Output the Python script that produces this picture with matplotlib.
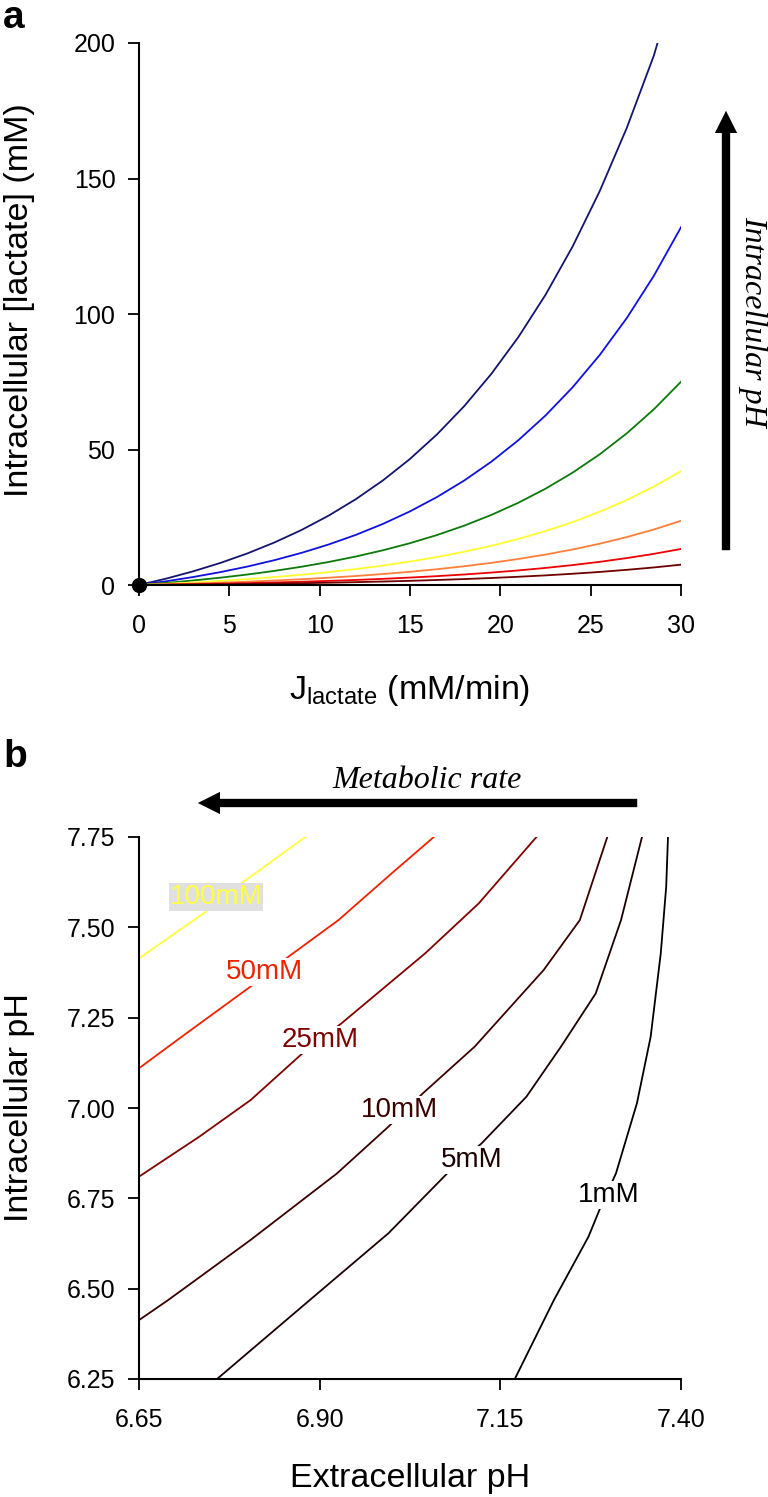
import matplotlib.pyplot as plt
from matplotlib.patches import FancyArrowPatch

plt.rcParams['font.family'] = ['Liberation Sans', 'DejaVu Sans']
plt.rcParams['mathtext.fontset'] = 'custom'
plt.rcParams['mathtext.rm'] = 'Liberation Sans'
plt.rcParams['mathtext.default'] = 'regular'

# ---- panel a: intracellular lactate vs lactate production rate ----
j_lactate = [0, 1.5, 3, 4.5, 6, 7.5, 9, 10.5, 12, 13.5, 15, 16.5, 18, 19.5, 21,
             22.5, 24, 25.5, 27, 28.5, 30]
lac_darkred = [0, 0.08, 0.17, 0.27, 0.39, 0.52, 0.67, 0.85, 1.05, 1.28, 1.54,
               1.85, 2.19, 2.58, 3.04, 3.55, 4.15, 4.82, 5.60, 6.48, 7.5]
lac_red = [0, 0.14, 0.30, 0.48, 0.69, 0.92, 1.20, 1.51, 1.86, 2.27, 2.74,
           3.27, 3.88, 4.58, 5.38, 6.30, 7.35, 8.55, 9.93, 11.50, 13.3]
lac_orange = [0, 0.25, 0.53, 0.85, 1.22, 1.65, 2.13, 2.69, 3.32, 4.05, 4.88,
              5.83, 6.92, 8.17, 9.60, 11.23, 13.10, 15.24, 17.69, 20.49, 23.7]
lac_yellow = [0, 0.44, 0.94, 1.51, 2.17, 2.92, 3.78, 4.76, 5.88, 7.17, 8.65,
              10.33, 12.26, 14.47, 17.00, 19.90, 23.21, 27.00, 31.35, 36.31, 42.0]
lac_green = [0, 0.78, 1.67, 2.70, 3.87, 5.21, 6.74, 8.50, 10.51, 12.81, 15.44,
             18.45, 21.90, 25.85, 30.36, 35.53, 41.45, 48.22, 55.97, 64.85, 75.0]
lac_blue = [0, 1.37, 2.95, 4.75, 6.81, 9.17, 11.87, 14.96, 18.49, 22.54, 27.17,
            32.48, 38.55, 45.49, 53.44, 62.54, 72.95, 84.87, 98.51, 114.13, 132.0]
j_navy = [0, 1.5, 3, 4.5, 6, 7.5, 9, 10.5, 12, 13.5, 15, 16.5, 18, 19.5, 21,
          22.5, 24, 25.5, 27, 28.5, 28.7]
lac_navy = [0, 2.35, 5.05, 8.13, 11.66, 15.70, 20.32, 25.61, 31.66, 38.59, 46.52,
            55.61, 65.99, 77.89, 91.50, 107.07, 124.90, 145.31, 168.67, 195.41, 200.0]

# ---- panel b: iso-lactate contours (pHe, pHi) ----
contour_levels = ['100mM', '50mM', '25mM', '10mM', '5mM', '1mM']
c100_phe = [6.65, 6.7425, 6.792, 6.880]
c100_phi = [7.414, 7.543, 7.622, 7.75]
c50_phe = [6.65, 6.709, 6.807, 6.857, 6.926, 7.000, 7.058]
c50_phi = [7.110, 7.197, 7.340, 7.419, 7.520, 7.650, 7.75]
c25_phe = [6.65, 6.733, 6.8045, 6.876, 6.930, 7.046, 7.120, 7.200]
c25_phi = [6.810, 6.920, 7.022, 7.151, 7.234, 7.428, 7.566, 7.75]
c10_phe = [6.65, 6.690, 6.734, 6.8045, 6.924, 6.995, 7.043, 7.1146, 7.210, 7.260, 7.298]
c10_phi = [6.413, 6.468, 6.532, 6.635, 6.819, 6.948, 7.041, 7.170, 7.382, 7.520, 7.75]
c5_phe = [6.758, 6.886, 6.995, 7.0765, 7.124, 7.186, 7.234, 7.282, 7.317, 7.346]
c5_phi = [6.25, 6.468, 6.653, 6.819, 6.902, 7.031, 7.170, 7.317, 7.520, 7.75]
c1_phe = [7.17, 7.224, 7.272, 7.289, 7.310, 7.339, 7.358, 7.372, 7.3795, 7.382]
c1_phi = [6.25, 6.468, 6.644, 6.727, 6.819, 7.013, 7.197, 7.428, 7.612, 7.75]
label_phe = [6.757, 6.824, 6.900, 7.010, 7.110, 7.300]
label_phi = [7.584, 7.377, 7.188, 6.994, 6.856, 6.759]

fig = plt.figure(figsize=(7.68, 14.97), dpi=100)
W, H = 768.0, 1497.0


def fx(px):
    return px / W


def fy(py):
    return 1 - py / H


def style_axes(ax):
    for s in ['top', 'right']:
        ax.spines[s].set_visible(False)
    for s in ['left', 'bottom']:
        ax.spines[s].set_linewidth(1.5)
    ax.tick_params(direction='out', length=8, width=1.3, labelsize=18, pad=9)


ax1 = fig.add_axes([fx(139), fy(585), fx(681) - fx(139), fy(43) - fy(585)])
style_axes(ax1)
ax1.plot(j_navy, lac_navy, color='#14146e', lw=1.3)
ax1.plot(j_lactate, lac_blue, color='#1010e0', lw=1.3)
ax1.plot(j_lactate, lac_green, color='#0a7a0a', lw=1.3)
ax1.plot(j_lactate, lac_yellow, color='#ffff30', lw=1.3)
ax1.plot(j_lactate, lac_orange, color='#ff7f3a', lw=1.3)
ax1.plot(j_lactate, lac_red, color='#ee0000', lw=1.3)
ax1.plot(j_lactate, lac_darkred, color='#6e0000', lw=1.3)
ax1.plot([0], [0], 'o', color='black', ms=10, clip_on=False, zorder=5)
ax1.set_xlim(0, 30)
ax1.set_ylim(0, 200)
ax1.set_xticks([0, 5, 10, 15, 20, 25, 30])
ax1.set_yticks([0, 50, 100, 150, 200])
ax1.tick_params(axis='x', pad=13)

fig.text(fx(20), fy(300), 'Intracellular [lactate] (mM)', rotation=90,
         ha='center', va='center', fontsize=24.5)
fig.text(fx(410), fy(690), 'J$_{lactate}$ (mM/min)', ha='center', va='center', fontsize=24.5)
fig.text(fx(3), fy(28), 'a', fontsize=28, fontweight='bold', ha='left', va='baseline')

arrow_style = 'simple,tail_width=0.6,head_width=1.6,head_length=1.6'
fig.patches.append(FancyArrowPatch(
    (fx(726), fy(553)), (fx(726), fy(108)), transform=fig.transFigure,
    arrowstyle=arrow_style, mutation_scale=10, color='black', lw=0))
fig.text(fx(753), fy(321), 'Intracellular pH', rotation=-90, ha='center', va='center',
         fontsize=23, family='Liberation Serif', style='italic')

# ---- panel b ----
ax2 = fig.add_axes([fx(139), fy(1379), fx(681) - fx(139), fy(837) - fy(1379)])
style_axes(ax2)
colors_b = ['#ffff40', '#ee2200', '#800000', '#3a0000', '#1a0000', '#000000']
lines_b = [(c100_phe, c100_phi), (c50_phe, c50_phi), (c25_phe, c25_phi),
           (c10_phe, c10_phi), (c5_phe, c5_phi), (c1_phe, c1_phi)]
for (xs, ys), col in zip(lines_b, colors_b):
    ax2.plot(xs, ys, color=col, lw=1.3)
for i, lab in enumerate(contour_levels):
    fc = '#e0e0e0' if lab == '100mM' else 'white'
    ax2.text(label_phe[i], label_phi[i], lab, color=colors_b[i], fontsize=20,
             ha='center', va='center',
             bbox=dict(facecolor=fc, edgecolor='none', pad=0.5))
ax2.set_xlim(6.65, 7.40)
ax2.set_ylim(6.25, 7.75)
ax2.set_xticks([6.65, 6.90, 7.15, 7.40])
ax2.set_xticklabels(['6.65', '6.90', '7.15', '7.40'])
ax2.set_yticks([6.25, 6.50, 6.75, 7.00, 7.25, 7.50, 7.75])
ax2.set_yticklabels(['6.25', '6.50', '6.75', '7.00', '7.25', '7.50', '7.75'])
ax2.tick_params(axis='x', pad=13)

fig.text(fx(20), fy(1108), 'Intracellular pH', rotation=90, ha='center', va='center', fontsize=24.5)
fig.text(fx(410), fy(1478), 'Extracellular pH', ha='center', va='center', fontsize=24.5)
fig.text(fx(3), fy(767), 'b', fontsize=28, fontweight='bold', ha='left', va='baseline')

fig.patches.append(FancyArrowPatch(
    (fx(640), fy(803)), (fx(195), fy(803)), transform=fig.transFigure,
    arrowstyle=arrow_style, mutation_scale=10, color='black', lw=0))
fig.text(fx(427), fy(780), 'Metabolic rate', ha='center', va='center',
         fontsize=23, family='Liberation Serif', style='italic')

fig.savefig('out.png', dpi=100)
